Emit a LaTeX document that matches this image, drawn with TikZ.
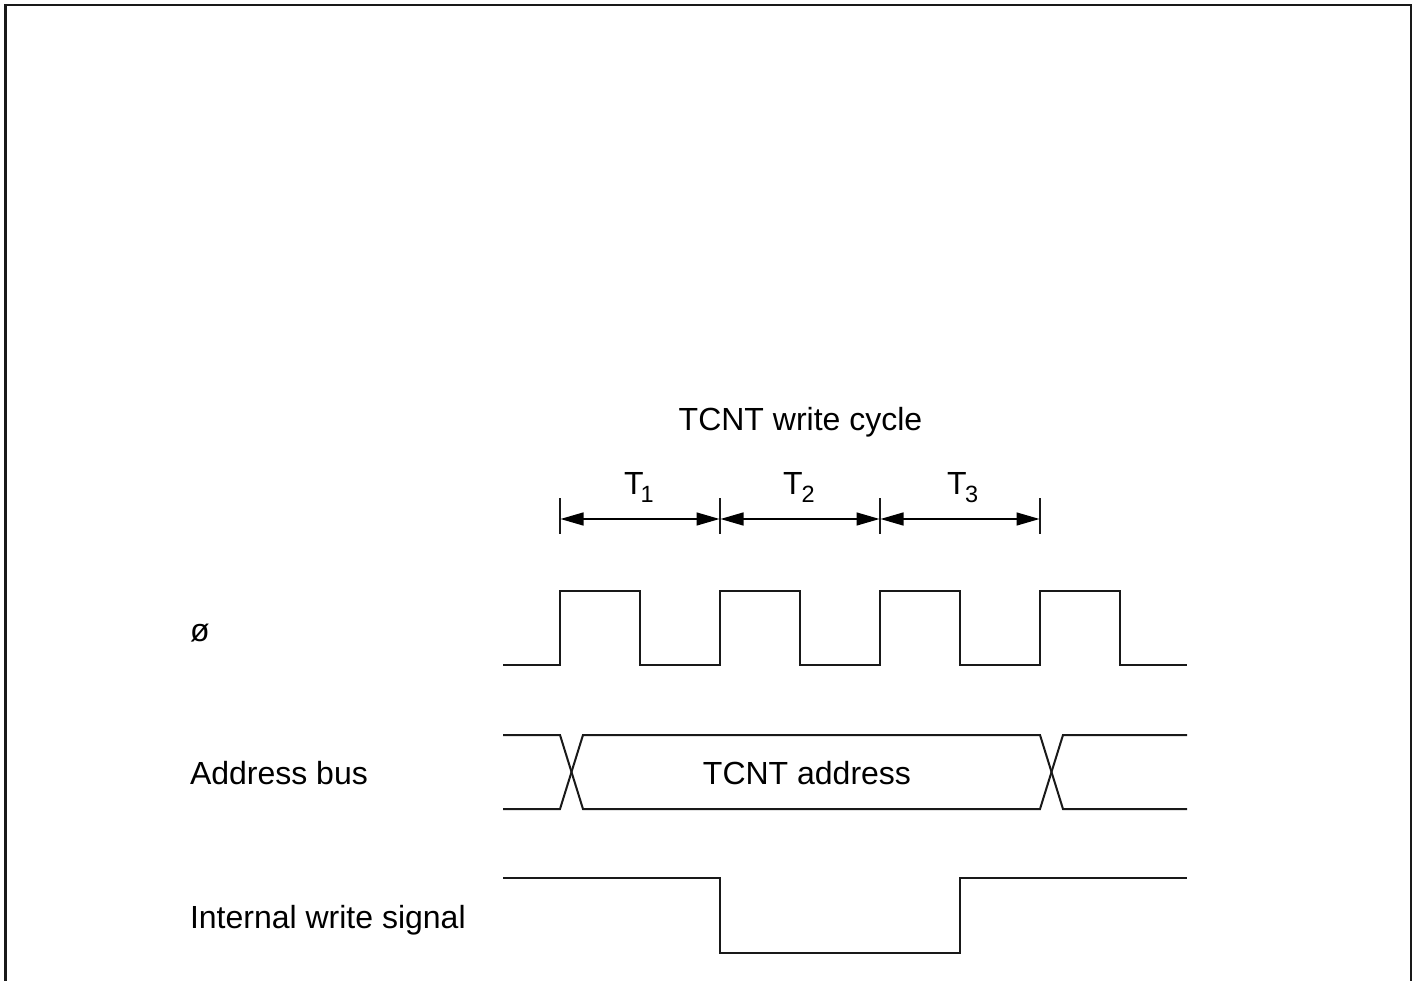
\documentclass[tikz,border=0pt]{standalone}
\usepackage{fontspec}
\setmainfont{Liberation Sans}
\usetikzlibrary{arrows.meta}
\tikzset{
  sig/.style={line width=2pt,line join=miter,black!90},
  frameline/.style={line width=2.4pt,black!90},
  tick/.style={line width=1.8pt,black!90},
  dimline/.style={line width=1.4pt,black,{Triangle[length=23pt,width=13pt]}-{Triangle[length=23pt,width=13pt]},shorten <=0.5pt,shorten >=0.5pt},
  lab/.style={anchor=base west,inner sep=0pt,outer sep=0pt,font=\fontsize{32pt}{36pt}\selectfont},
  cen/.style={anchor=base,inner sep=0pt,outer sep=0pt,font=\fontsize{32pt}{36pt}\selectfont},
  subs/.style={anchor=base west,inner sep=0pt,outer sep=0pt,font=\fontsize{23.5pt}{26pt}\selectfont}
}
\begin{document}
\begin{tikzpicture}[x=1pt,y=-1pt]
\useasboundingbox (0,0) rectangle (1413,981);
\fill[white] (0,0) rectangle (1413,981);
% frame
\coordinate (fa) at (5.5,981);
\coordinate (fb) at (5.5,5);
\coordinate (fc) at (1411,5);
\coordinate (fd) at (1411,981);
\draw[frameline] (fa) -- (fb) -- (fc) -- (fd);
% title
\node[cen] (title) at (800.5,430) {TCNT write cycle};
% period marks
\foreach \n/\x in {a/560,b/720,c/880,d/1040}{
  \coordinate (\n) at (\x,519);
  \draw[tick] (\x,498) -- (\x,534);
}
\draw[dimline] (a) -- (b);
\draw[dimline] (b) -- (c);
\draw[dimline] (c) -- (d);
\node[lab] (t1) at (624,494) {T};
\node[subs] (s1) at (640.5,502) {1};
\node[lab] (t2) at (783,494) {T};
\node[subs] (s2) at (801.5,502) {2};
\node[lab] (t3) at (947,494) {T};
\node[subs] (s3) at (965,502) {3};
% clock
\node[lab] (phi) at (190,641) {ø};
\draw[sig] (503,665) -- (560,665) -- (560,591) -- (640,591) -- (640,665)
  -- (720,665) -- (720,591) -- (800,591) -- (800,665)
  -- (880,665) -- (880,591) -- (960,591) -- (960,665)
  -- (1040,665) -- (1040,591) -- (1120,591) -- (1120,665) -- (1187,665);
% address bus
\node[lab] (addr) at (190,784) {Address bus};
\node[cen] (tcnt) at (807,784) {TCNT address};
\draw[sig] (503,735) -- (560,735) -- (583,809) -- (1040,809) -- (1063,735) -- (1187,735);
\draw[sig] (503,809) -- (560,809) -- (583,735) -- (1040,735) -- (1063,809) -- (1187,809);
% write
\node[lab] (wr) at (190,928) {Internal write signal};
\draw[sig] (503,878) -- (720,878) -- (720,953) -- (960,953) -- (960,878) -- (1187,878);
\end{tikzpicture}
\end{document}
